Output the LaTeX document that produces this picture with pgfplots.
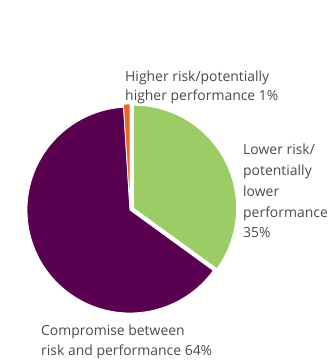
\documentclass[border=0pt]{standalone}
\usepackage{pgfplots}
\usepackage{pgfplotstable}
\pgfplotsset{compat=1.18}
\usepackage{fontspec}
\setmainfont{Open Sans}

\definecolor{pieGreen}{HTML}{9CCC66}
\definecolor{piePurple}{HTML}{5A0050}
\definecolor{pieOrange}{HTML}{F0621E}
\definecolor{labelGrey}{HTML}{4A4A4A}

% Shares in percent, clockwise from twelve o'clock
\pgfplotstableread{
share explode
35 4
64 0
1 3
}\piedata

\pgfplotstablegetelem{0}{share}\of\piedata \let\shareA\pgfplotsretval
\pgfplotstablegetelem{1}{share}\of\piedata \let\shareB\pgfplotsretval
\pgfplotstablegetelem{2}{share}\of\piedata \let\shareC\pgfplotsretval
\pgfplotstablegetelem{0}{explode}\of\piedata \let\expA\pgfplotsretval
\pgfplotstablegetelem{1}{explode}\of\piedata \let\expB\pgfplotsretval
\pgfplotstablegetelem{2}{explode}\of\piedata \let\expC\pgfplotsretval

% Angles of slice boundaries (degrees, mathematical orientation)
\pgfmathsetmacro{\angA}{90}
\pgfmathsetmacro{\angB}{\angA-3.6*\shareA}
\pgfmathsetmacro{\angC}{\angB-3.6*\shareB}
\pgfmathsetmacro{\angD}{\angC-3.6*\shareC}

\def\cx{130}
\def\cy{210}
\def\rad{103}

% offsets of each slice along its bisector (y axis points down)
\pgfmathsetmacro{\oxA}{\cx+\expA*cos((\angA+\angB)/2)}
\pgfmathsetmacro{\oyA}{\cy-\expA*sin((\angA+\angB)/2)}
\pgfmathsetmacro{\oxB}{\cx+\expB*cos((\angB+\angC)/2)}
\pgfmathsetmacro{\oyB}{\cy-\expB*sin((\angB+\angC)/2)}
\pgfmathsetmacro{\oxC}{\cx+\expC*cos((\angC+\angD)/2)}
\pgfmathsetmacro{\oyC}{\cy-\expC*sin((\angC+\angD)/2)}

\begin{document}
\begin{tikzpicture}
\begin{axis}[
  x=1bp, y=1bp,
  xmin=0, xmax=335, ymin=0, ymax=361,
  y dir=reverse,
  hide axis,
  clip=false,
  scale only axis,
  font=\fontsize{14}{16}\selectfont,
]
  % canvas frame
  \path (axis cs:0,0) rectangle (axis cs:335,361);
  % slices; y grows downwards, so arcs sweep with negated angles
  \fill[piePurple, draw=white, line width=0.8bp]
    (axis cs:\oxB,\oyB) -- (axis cs:{\oxB+\rad*cos(\angB)},{\oyB-\rad*sin(\angB)})
    arc[start angle=-\angB, end angle=-\angC, radius=\rad] -- cycle;
  \fill[pieGreen, draw=white, line width=0.8bp]
    (axis cs:\oxA,\oyA) -- (axis cs:{\oxA+\rad*cos(\angA)},{\oyA-\rad*sin(\angA)})
    arc[start angle=-\angA, end angle=-\angB, radius=\rad] -- cycle;
  \fill[pieOrange, draw=white, line width=0.8bp]
    (axis cs:\oxC,\oyC) -- (axis cs:{\oxC+\rad*cos(\angC)},{\oyC-\rad*sin(\angC)})
    arc[start angle=-\angC, end angle=-\angD, radius=\rad] -- cycle;

  \begin{scope}[every node/.style={anchor=base west, inner sep=0pt, text=labelGrey}]
    \node at (axis cs:125,81) {Higher risk/potentially};
    \node at (axis cs:125,100) {higher performance \shareC\%};
    \node at (axis cs:243,154) {Lower risk/};
    \node at (axis cs:243,175) {potentially};
    \node at (axis cs:243,196) {lower};
    \node at (axis cs:243,217) {performance};
    \node at (axis cs:243,237) {\shareA\%};
    \node at (axis cs:41,335) {Compromise between};
    \node at (axis cs:41,355) {risk and performance \shareB\%};
  \end{scope}
\end{axis}
\end{tikzpicture}
\end{document}
